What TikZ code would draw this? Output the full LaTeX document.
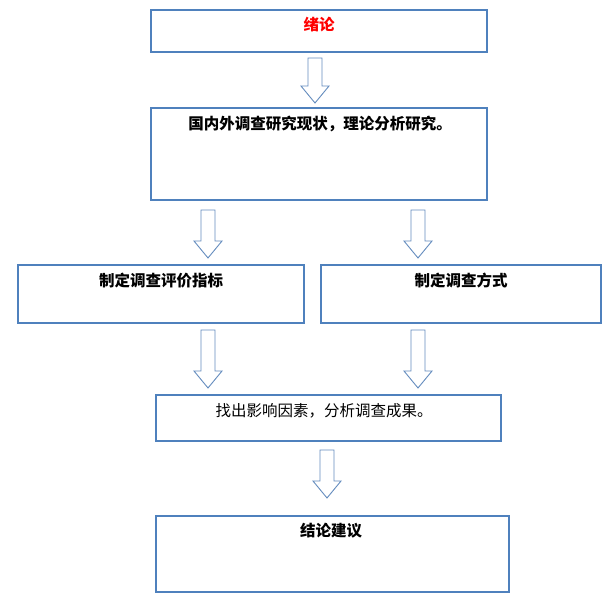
\documentclass[tikz,border=0pt]{standalone}
\usepackage{fontspec}
\newfontfamily\cjk{Noto Sans CJK SC}
\definecolor{boxblue}{RGB}{79,129,189}
\definecolor{arrblue}{RGB}{100,140,190}
\newcommand\harrow[3]{%
  \draw[arrowst] (#1-7,#2) -- (#1+7,#2) -- (#1+7,#3-17) -- (#1+14,#3-17) -- (#1,#3) -- (#1-14,#3-17) -- (#1-7,#3-17) -- cycle;}
\begin{document}
\begin{tikzpicture}[x=1pt,y=-1pt,
  box/.style={draw=boxblue,line width=1.2pt},
  arrowst/.style={draw=arrblue,line width=0.9pt,fill=white},
  lbl/.style={font=\cjk\fontsize{15.5}{17}\selectfont,anchor=center,inner sep=0pt},
  blbl/.style={lbl,font=\cjk\bfseries\fontsize{15.5}{17}\selectfont}]
\useasboundingbox (0,0) rectangle (605,602);
\draw[box] (151,10) rectangle (487,52);
\node[blbl,text=red] (t1) at (319,25) {绪论};
\draw[box] (151,108) rectangle (487,200);
\node[blbl] (t2) at (320,124) {国内外调查研究现状，理论分析研究。};
\draw[box] (18,265) rectangle (304,323);
\node[blbl] (t3) at (161,281) {制定调查评价指标};
\draw[box] (321,265) rectangle (601,323);
\node[blbl] (t4) at (461,281) {制定调查方式};
\draw[box] (156,395) rectangle (501,441);
\node[lbl] (t5) at (324,411) {找出影响因素，分析调查成果。};
\draw[box] (156,516) rectangle (509,592);
\node[blbl] (t6) at (331,531) {结论建议};
\harrow{315}{58}{103}
\harrow{208}{210}{258}
\harrow{418}{210}{258}
\harrow{208}{330}{388}
\harrow{418}{330}{388}
\harrow{327}{450}{498}
\end{tikzpicture}
\end{document}
